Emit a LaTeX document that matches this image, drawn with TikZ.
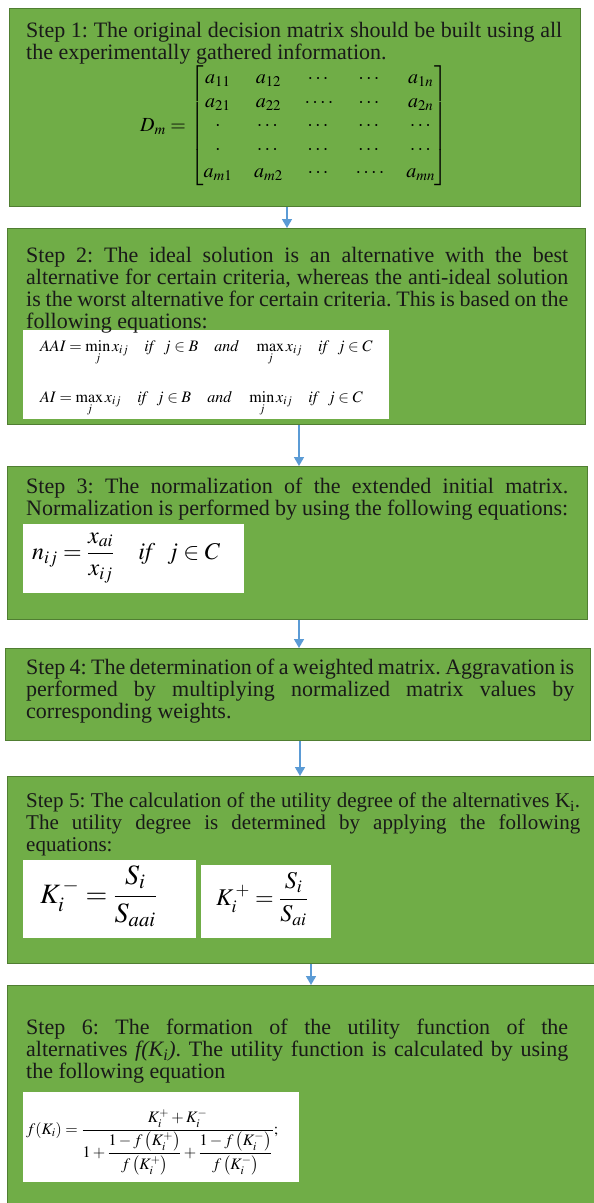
\documentclass[tikz,border=0pt]{standalone}
\usepackage{amsmath}
\usepackage{mathptmx}
\usepackage{fontspec}
\setmainfont{Liberation Serif}
\definecolor{stepgreen}{HTML}{70AD47}
\definecolor{stepline}{HTML}{507E32}
\definecolor{flowblue}{HTML}{5B9BD5}
\usetikzlibrary{arrows.meta,positioning}
\hyphenpenalty=10000
\tolerance=9999
\frenchspacing

\begin{document}
\begin{tikzpicture}[x=1pt,y=-1pt,
  stepbox/.style={draw=stepline,line width=1.2pt,fill=stepgreen,
                  anchor=north west,inner sep=0pt},
  steptext/.style={anchor=north west,inner sep=0pt,text width=542pt,
                   align=justify,font=\fontsize{22}{22}\selectfont,text=black!90},
  eqbox/.style={fill=white,anchor=north west,inner sep=0pt},
  eqn/.style={anchor=west,inner sep=0pt},
  flow/.style={draw=flowblue,line width=1.6pt,-{Triangle[width=10pt,length=9pt]}}
]
\useasboundingbox (0,0) rectangle (594,1203);

% Step boxes
\node[stepbox,minimum width=571pt,minimum height=198pt] (step1) at (9,8) {};
\node[stepbox,minimum width=578pt,minimum height=196pt] (step2) at (7,228) {};
\node[stepbox,minimum width=580pt,minimum height=153pt] (step3) at (7,466) {};
\node[stepbox,minimum width=585pt,minimum height=92pt]  (step4) at (5,648) {};
\node[stepbox,minimum width=600pt,minimum height=187pt] (step5) at (7,776) {};
\node[stepbox,minimum width=600pt,minimum height=240pt] (step6) at (7,985) {};

% White equation panels
\node[eqbox,minimum width=366pt,minimum height=89pt] (eqbg2) at (23,330) {};
\node[eqbox,minimum width=221pt,minimum height=69pt] (eqbg3) at (23,524) {};
\node[eqbox,minimum width=173pt,minimum height=78pt] (eqbg5a) at (23,860) {};
\node[eqbox,minimum width=130pt,minimum height=73pt] (eqbg5b) at (201,865) {};
\node[eqbox,minimum width=276pt,minimum height=90pt] (eqbg6) at (23,1092) {};

% Step texts
\node[steptext,text width=536pt] (txt1) at (26,22) {Step 1: The original decision matrix should be built using all\linebreak the experimentally gathered information.};
\node[steptext] (txt2) at (26,247) {Step 2: The ideal solution is an alternative with the best\linebreak alternative for certain criteria, whereas the anti-ideal solution\linebreak is the worst alternative for certain criteria. This is based on the\linebreak following equations:};
\node[steptext] (txt3) at (26,478) {Step 3: The normalization of the extended initial matrix.\linebreak Normalization is performed by using the following equations:};
\node[steptext,text width=548pt] (txt4) at (26,659) {Step 4: The determination of a weighted matrix. Aggravation is\linebreak performed by multiplying normalized matrix values by\linebreak corresponding weights.};
\node[steptext,text width=554pt,font=\fontsize{21}{22}\selectfont] (txt5) at (26,793) {Step 5: The calculation of the utility degree of the alternatives K\textsubscript{i}.\linebreak The utility degree is determined by applying the following\linebreak equations:};
\node[steptext] (txt6) at (26,1019) {Step 6: The formation of the utility function of the\linebreak alternatives \textit{f(K\textsubscript{i})}. The utility function is calculated by using\linebreak the following equation};

% Equations
\node[eqn] (dm) at (140,126) {\fontsize{20}{23.5}\selectfont\setlength\arraycolsep{11pt}%
  $D_m = \begin{bmatrix}
    a_{11} & a_{12} & \cdots & \cdots & a_{1n}\\
    a_{21} & a_{22} & \cdots\cdot & \cdots & a_{2n}\\
    \cdot & \cdots & \cdots & \cdots & \cdots\\
    \cdot & \cdots & \cdots & \cdots & \cdots\\
    a_{m1} & a_{m2} & \cdots & \cdots\cdot & a_{mn}
  \end{bmatrix}$};
\node[eqn,anchor=base west] (eq2a) at (40,351) {\fontsize{16}{18}\selectfont
  $AAI=\min\limits_j x_{ij}\quad \mathit{if}\ \ j\in B\quad \mathit{and}\quad \max\limits_j x_{ij}\quad \mathit{if}\ \ j\in C$};
\node[eqn,anchor=base west] (eq2b) at (40,402) {\fontsize{16}{18}\selectfont
  $AI=\max\limits_j x_{ij}\quad \mathit{if}\ \ j\in B\quad \mathit{and}\quad \min\limits_j x_{ij}\quad \mathit{if}\ \ j\in C$};
\node[eqn] (eq3) at (32,558) {\fontsize{24}{26}\selectfont
  $n_{ij}=\dfrac{x_{ai}}{x_{ij}}\quad \mathit{if}\ \ j\in C$};
\node[eqn] (eq5a) at (40,896) {\fontsize{28}{30}\selectfont
  $K_i^{\,-}=\dfrac{S_i}{S_{aai}}$};
\node[eqn] (eq5b) at (216,899) {\fontsize{24}{26}\selectfont
  $K_i^{\,+}=\dfrac{S_i}{S_{ai}}$};
\node[eqn,anchor=base west] (eq6) at (26,1134) {\fontsize{16}{18}\selectfont
  $\displaystyle f(K_i)=\frac{K_i^{+}+K_i^{-}}{1+\dfrac{1-f\left(K_i^{+}\right)}{f\left(K_i^{+}\right)}+\dfrac{1-f\left(K_i^{-}\right)}{f\left(K_i^{-}\right)}};$};

% Arrows between steps
\draw[flow] (step1.south -| 287,0) -- (step2.north -| 287,0);
\draw[flow] (step2.south -| 299,0) -- (step3.north -| 299,0);
\draw[flow] (step3.south -| 299,0) -- (step4.north -| 299,0);
\draw[flow] (step4.south -| 300,0) -- (step5.north -| 300,0);
\draw[flow] (step5.south -| 311,0) -- (step6.north -| 311,0);

\end{tikzpicture}
\end{document}
